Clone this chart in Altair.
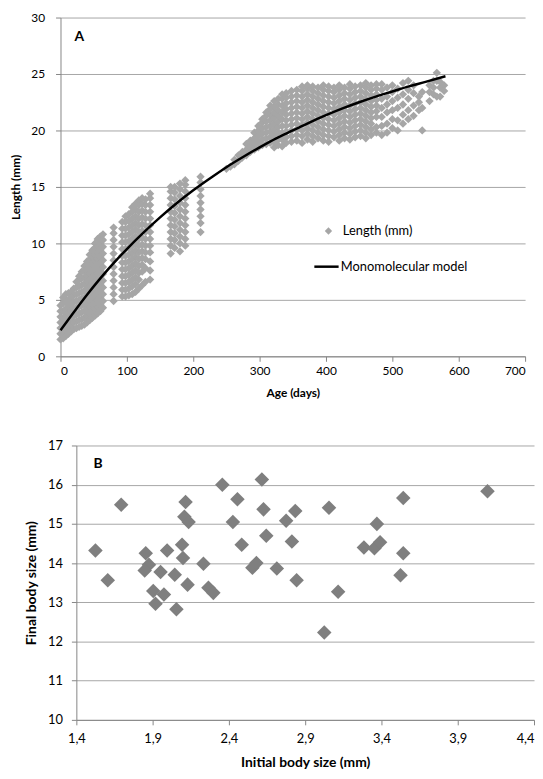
import altair as alt
import pandas as pd

FONT = "Lato"

# ---------------- Panel A: length (mm) against age (days) ----------------
ages_a = [0, 4, 8, 12, 16, 20, 24, 28, 32, 36, 40, 44, 48, 52, 56, 60, 64,
          80, 93, 98, 103, 108, 113, 118, 123, 128, 135,
          166, 172, 180, 188, 211,
          250, 256, 262, 268, 274, 280, 286, 292, 298, 304, 310, 316, 322, 328, 334,
          340, 348, 356, 364, 372, 380, 388, 396, 404, 412, 420, 428, 436, 444, 452, 460, 468, 476,
          484, 492, 500, 508, 516, 524, 532, 540, 545, 556, 562, 567, 572, 578]
lengths_a = [
    [1.5, 2.0, 2.5, 3.0, 3.5, 4.0, 4.5],
    [1.6, 2.2, 2.8, 3.4, 4.0, 4.7, 5.2],
    [1.8, 2.4, 3.0, 3.6, 4.2, 4.8, 5.5],
    [2.0, 2.6, 3.2, 3.8, 4.4, 5.0, 5.6],
    [2.2, 2.8, 3.4, 4.0, 4.6, 5.2, 5.7],
    [2.4, 3.0, 3.6, 4.2, 4.8, 5.4, 6.0],
    [2.5, 3.1, 3.7, 4.3, 4.9, 5.5, 6.1, 6.6],
    [2.6, 3.2, 3.8, 4.4, 5.0, 5.6, 6.2, 6.8, 7.1],
    [2.7, 3.3, 3.9, 4.5, 5.1, 5.7, 6.3, 6.9, 7.5],
    [2.8, 3.4, 4.0, 4.6, 5.2, 5.8, 6.4, 7.0, 7.6, 8.0],
    [3.0, 3.6, 4.2, 4.8, 5.4, 6.0, 6.6, 7.2, 7.8, 8.4],
    [3.2, 3.8, 4.4, 5.0, 5.6, 6.2, 6.8, 7.4, 8.0, 8.6, 9.0],
    [3.4, 4.0, 4.6, 5.2, 5.8, 6.4, 7.0, 7.6, 8.2, 8.8, 9.4],
    [3.6, 4.2, 4.8, 5.4, 6.0, 6.6, 7.2, 7.8, 8.4, 9.0, 9.6, 10.0],
    [3.8, 4.4, 5.0, 5.6, 6.2, 6.8, 7.4, 8.0, 8.6, 9.2, 9.8, 10.4],
    [4.0, 4.6, 5.2, 5.8, 6.4, 7.0, 7.6, 8.2, 8.8, 9.4, 10.0, 10.6],
    [4.3, 4.9, 5.5, 6.1, 6.7, 7.3, 7.9, 8.5, 9.1, 9.7, 10.3, 10.8],
    [4.9, 5.5, 6.1, 6.7, 7.3, 7.9, 8.5, 9.1, 9.7, 10.3, 10.9, 11.4],
    [5.3, 5.9, 6.5, 7.1, 7.7, 8.3, 8.9, 9.5, 10.1, 10.7, 11.3, 11.9],
    [5.3, 5.9, 6.5, 7.1, 7.7, 8.3, 8.9, 9.5, 10.1, 10.7, 11.3, 11.9, 12.4],
    [5.4, 6.0, 6.6, 7.2, 7.8, 8.4, 9.0, 9.6, 10.2, 10.8, 11.4, 12.0, 12.6],
    [5.5, 6.2, 6.8, 7.4, 8.0, 8.6, 9.2, 9.8, 10.4, 11.0, 11.6, 12.2, 12.8, 13.2],
    [5.7, 6.4, 7.0, 7.6, 8.2, 8.8, 9.4, 10.0, 10.6, 11.2, 11.8, 12.4, 13.0, 13.5],
    [6.0, 6.8, 7.4, 8.0, 8.6, 9.2, 9.8, 10.4, 11.0, 11.6, 12.2, 12.8, 13.4, 13.8],
    [6.3, 7.5, 8.1, 8.7, 9.3, 9.9, 10.5, 11.1, 11.7, 12.3, 12.9, 13.5, 14.0],
    [6.6, 7.8, 8.6, 9.2, 9.8, 10.4, 11.0, 11.6, 12.2, 12.8, 13.4, 13.9],
    [6.8, 7.6, 8.4, 9.2, 9.8, 10.4, 11.0, 11.6, 12.2, 12.8, 13.4, 14.0, 14.4],
    [9.1, 9.8, 10.4, 11.0, 11.6, 12.2, 12.8, 13.4, 14.0, 14.6, 15.0],
    [9.6, 10.3, 10.9, 11.5, 12.1, 12.7, 13.3, 13.9, 14.5, 15.0],
    [9.3, 10.0, 10.6, 11.2, 11.8, 12.4, 13.0, 13.6, 14.2, 14.8, 15.3],
    [9.8, 10.4, 11.0, 11.6, 12.2, 12.8, 13.4, 14.0, 14.6, 15.2, 15.6],
    [11.0, 11.8, 12.4, 13.0, 13.6, 14.2, 14.8, 15.4, 15.9],
    [16.6],
    [16.8],
    [17.0, 17.4],
    [17.3, 17.8],
    [17.6, 18.1],
    [17.8, 18.3, 18.8],
    [18.1, 18.6, 19.1],
    [18.3, 18.8, 19.3, 19.8],
    [18.5, 19.0, 19.5, 20.0, 20.4],
    [18.7, 19.2, 19.7, 20.2, 20.7, 21.0],
    [18.8, 19.3, 19.8, 20.3, 20.8, 21.3, 21.6],
    [18.9, 19.4, 19.9, 20.4, 20.9, 21.4, 21.9, 22.2],
    [18.5, 19.0, 19.6, 20.1, 20.6, 21.1, 21.6, 22.1, 22.6],
    [18.7, 19.2, 19.8, 20.3, 20.8, 21.3, 21.8, 22.3, 22.8],
    [18.6, 19.2, 19.8, 20.4, 21.0, 21.6, 22.2, 22.8, 23.2],
    [18.9, 19.4, 19.9, 20.4, 20.9, 21.4, 21.9, 22.4, 22.9, 23.3],
    [19.0, 19.5, 20.0, 20.5, 21.0, 21.5, 22.0, 22.5, 23.0, 23.5],
    [19.1, 19.6, 20.1, 20.6, 21.1, 21.6, 22.1, 22.6, 23.1, 23.6],
    [18.9, 19.5, 20.0, 20.5, 21.0, 21.5, 22.0, 22.5, 23.0, 23.5, 23.9],
    [19.2, 19.7, 20.2, 20.7, 21.2, 21.7, 22.2, 22.7, 23.2, 23.7, 24.0],
    [19.0, 19.5, 20.0, 20.5, 21.0, 21.5, 22.0, 22.5, 23.0, 23.5, 23.9],
    [19.3, 19.8, 20.3, 20.8, 21.3, 21.8, 22.3, 22.8, 23.3, 23.8],
    [19.1, 19.6, 20.1, 20.6, 21.1, 21.6, 22.1, 22.6, 23.1, 23.6, 24.0],
    [19.0, 19.5, 20.0, 20.5, 21.0, 21.5, 22.0, 22.5, 23.0, 23.5, 23.9],
    [19.4, 19.9, 20.4, 20.9, 21.4, 21.9, 22.4, 22.9, 23.4, 23.8],
    [19.1, 19.6, 20.1, 20.6, 21.1, 21.6, 22.1, 22.6, 23.1, 23.6, 24.0],
    [19.3, 19.8, 20.3, 20.8, 21.3, 21.8, 22.3, 22.8, 23.3, 23.8],
    [19.2, 19.7, 20.2, 20.7, 21.2, 21.7, 22.2, 22.7, 23.2, 23.7, 24.1],
    [19.4, 19.9, 20.4, 20.9, 21.4, 21.9, 22.4, 22.9, 23.4, 23.9],
    [19.5, 20.0, 20.5, 21.0, 21.5, 22.0, 22.5, 23.0, 23.5, 24.0],
    [19.3, 19.8, 20.3, 20.8, 21.3, 21.8, 22.3, 22.8, 23.3, 23.8, 24.2],
    [19.6, 20.1, 20.6, 21.1, 21.6, 22.1, 22.6, 23.1, 23.6, 24.0],
    [19.8, 20.3, 21.2, 21.7, 22.2, 22.7, 23.2, 23.7, 24.1],
    [19.6, 20.4, 21.2, 22.0, 22.8, 23.6, 24.1],
    [19.8, 20.6, 21.6, 22.3, 23.0, 23.8],
    [20.2, 21.0, 21.8, 22.6, 23.4, 24.0],
    [20.0, 20.9, 22.0, 22.9, 23.7],
    [20.6, 21.4, 22.3, 23.2, 24.2],
    [21.0, 21.8, 22.8, 23.6, 24.4],
    [21.3, 22.2, 23.3, 24.0],
    [21.8, 22.5, 23.0],
    [20.0, 22.0, 23.4],
    [22.6, 23.4, 24.0],
    [23.2, 23.8, 24.4],
    [23.0, 24.4, 25.1],
    [23.0, 23.8, 24.3],
    [23.5, 24.0],
]

model_age = [0, 20, 40, 60, 80, 100, 125, 150, 175, 200, 225, 250, 275,
             300, 325, 350, 375, 400, 425, 450, 475, 500, 525, 550, 580]
model_len = [2.3, 3.9, 5.45, 6.9, 8.25, 9.5, 10.95, 12.3, 13.55, 14.7, 15.75, 16.75, 17.65,
             18.5, 19.3, 20.0, 20.7, 21.35, 21.95, 22.5, 23.0, 23.45, 23.9, 24.3, 24.8]

# ---------------- Panel B: final vs initial body size ----------------
initial_size = [1.525, 1.606, 1.694, 1.855, 1.876, 1.848, 1.952, 1.995, 2.093, 2.099,
                2.045, 2.233, 2.129, 2.266, 2.298, 1.904, 1.974, 1.919, 2.056, 2.116,
                2.108, 2.136, 2.357, 2.456, 2.426, 2.484, 2.554, 2.580, 2.616, 2.627,
                2.645, 2.714, 2.775, 2.835, 2.813, 2.844, 3.056, 3.116, 3.025, 3.370,
                3.285, 3.354, 3.391, 3.543, 3.543, 3.525, 4.095]
final_size = [14.32, 13.56, 15.49, 14.25, 13.96, 13.81, 13.77, 14.32, 14.47, 14.13,
              13.70, 13.98, 13.45, 13.37, 13.24, 13.29, 13.20, 12.96, 12.82, 15.56,
              15.18, 15.05, 16.00, 15.63, 15.05, 14.47, 13.88, 14.00, 16.13, 15.37,
              14.70, 13.86, 15.08, 15.33, 14.55, 13.56, 15.41, 13.27, 12.23, 15.00,
              14.40, 14.38, 14.53, 15.66, 14.25, 13.69, 15.83]

a_ticks_x = [0, 100, 200, 300, 400, 500, 600, 700]
a_ticks_y = [0, 5, 10, 15, 20, 25, 30]
b_ticks_x = [1.4, 1.9, 2.4, 2.9, 3.4, 3.9, 4.4]
b_ticks_y = [10, 11, 12, 13, 14, 15, 16, 17]

rows = [{"age": a, "length": v, "series": "Length (mm)"}
        for a, vals in zip(ages_a, lengths_a) for v in vals]
df_a = pd.DataFrame(rows)
df_m = pd.DataFrame({"age": model_age, "length": model_len,
                     "series": ["Monomolecular model"] * len(model_age)})
df_b = pd.DataFrame({"initial": initial_size, "final": final_size})

axis_common = dict(domainColor="#868686", tickColor="#868686", gridColor="#a6a6a6",
                   labelColor="#000000", titleColor="#000000", labelFont=FONT,
                   titleFont=FONT, tickSize=5, titleFontWeight="bold")

x_a = alt.X("age:Q", scale=alt.Scale(domain=[0, 700], nice=False),
            axis=alt.Axis(values=a_ticks_x, title="Age (days)", grid=False,
                          labelFontSize=12, titleFontSize=12, labelPadding=4,
                          titlePadding=12, **axis_common))
y_a = alt.Y("length:Q", scale=alt.Scale(domain=[0, 30], nice=False),
            axis=alt.Axis(values=a_ticks_y, title="Length (mm)", grid=True,
                          labelFontSize=12, titleFontSize=12, labelPadding=11,
                          titlePadding=8, **axis_common))

pts_a = alt.Chart(df_a).mark_point(shape="diamond", filled=True, size=70, opacity=1).encode(
    x=x_a, y=y_a,
    color=alt.Color("series:N",
                    scale=alt.Scale(domain=["Length (mm)"], range=["#a6a6a6"]),
                    legend=alt.Legend(title=None, orient="none", legendX=264, legendY=209,
                                      symbolType="diamond", symbolSize=55, labelOffset=8,
                                      labelFontSize=13, labelFont=FONT, labelColor="#000000",
                                      padding=0, symbolStrokeWidth=0)))

line_a = alt.Chart(df_m).mark_line(strokeWidth=2.5, interpolate="monotone").encode(
    x="age:Q", y="length:Q",
    stroke=alt.Stroke("series:N",
                      scale=alt.Scale(domain=["Monomolecular model"], range=["#000000"]),
                      legend=alt.Legend(title=None, orient="none", legendX=255, legendY=238,
                                        symbolType="stroke", symbolSize=600,
                                        symbolStrokeWidth=2.5, labelOffset=1,
                                        labelFontSize=13, labelFont=FONT,
                                        labelColor="#000000", padding=0)))

lab_a = alt.Chart(pd.DataFrame({"t": ["A"]})).mark_text(
    font=FONT, fontSize=14, fontWeight="bold", align="center", baseline="middle",
    color="#000000").encode(text="t:N", x=alt.value(19), y=alt.value(20))

chart_a = alt.layer(pts_a, line_a, lab_a).resolve_scale(color="independent").properties(
    width=469, height=342)

x_b = alt.X("initial:Q", scale=alt.Scale(domain=[1.4, 4.4], nice=False, zero=False),
            axis=alt.Axis(values=b_ticks_x,
                          labelExpr="replace(format(datum.value, '.1f'), '.', ',')",
                          labelAlign=alt.condition("datum.value > 4.35",
                                                   alt.value("right"), alt.value("center")),
                          title="Initial body size (mm)", grid=False, labelFontSize=13,
                          titleFontSize=14, labelPadding=8, titlePadding=10, **axis_common))
y_b = alt.Y("final:Q", scale=alt.Scale(domain=[10, 17], nice=False, zero=False),
            axis=alt.Axis(values=b_ticks_y, title="Final body size (mm)", grid=True,
                          labelFontSize=13, titleFontSize=14, labelPadding=9,
                          titlePadding=9, **axis_common))

pts_b = alt.Chart(df_b).mark_point(shape="diamond", filled=True, size=215, opacity=1,
                                   color="#7f7f7f").encode(x=x_b, y=y_b)

lab_b = alt.Chart(pd.DataFrame({"t": ["B"]})).mark_text(
    font=FONT, fontSize=14, fontWeight="bold", align="center", baseline="middle",
    color="#000000").encode(text="t:N", x=alt.value(22), y=alt.value(19))

chart_b = alt.layer(pts_b, lab_b).properties(width=462, height=277)

spacer = alt.Chart(pd.DataFrame({"v": [0]})).mark_point(opacity=0, size=1).encode(
    x=alt.value(0), y=alt.value(0)).properties(width=1, height=1)

row_b = alt.hconcat(spacer, chart_b, spacing=-38)

chart = alt.vconcat(chart_a, row_b, spacing=41).configure_view(stroke=None).properties(
    padding={"left": 2, "top": 0, "right": 0, "bottom": 0})

chart.save("out.html", embed_options={"renderer": "svg", "actions": False})
